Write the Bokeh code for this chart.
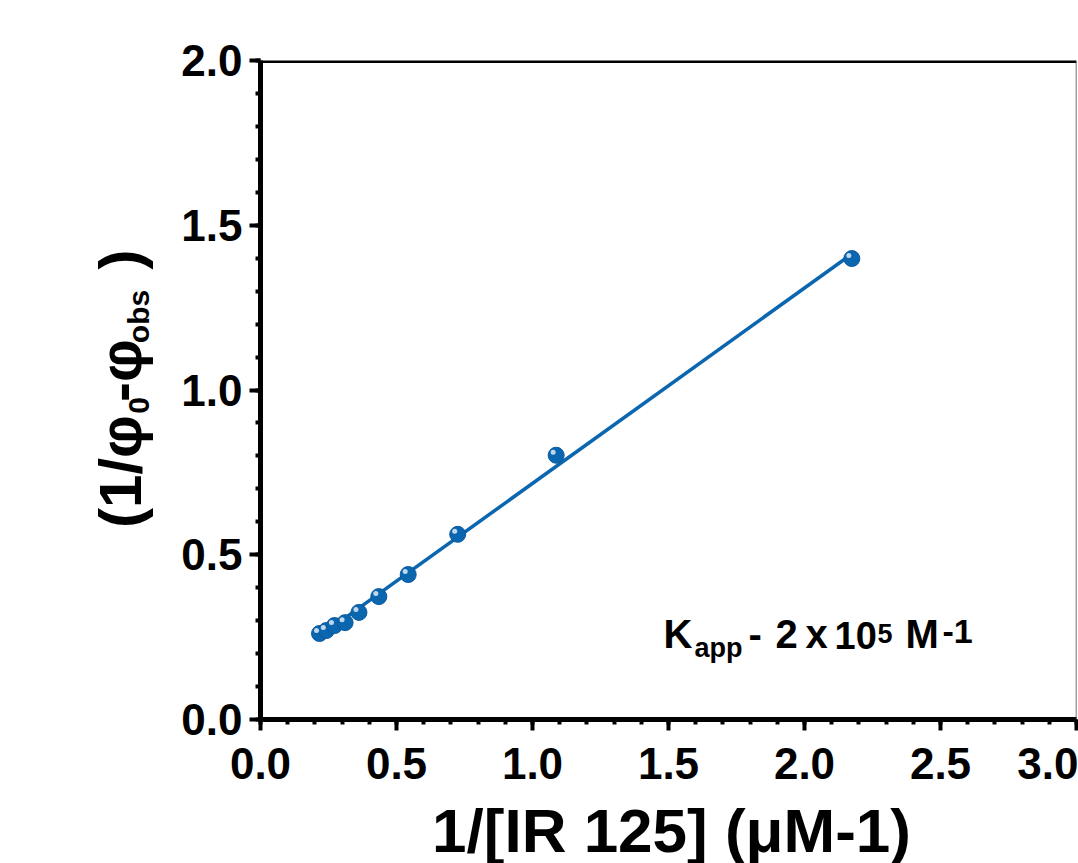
import numpy as np
from bokeh.plotting import figure
from bokeh.layouts import row, column
from bokeh.models import Range1d, SingleIntervalTicker, NumeralTickFormatter, Span, Label
from bokeh.embed import file_html
from bokeh.resources import INLINE

# ---------------- data ----------------
inv_conc = [0.217, 0.242, 0.272, 0.311, 0.362, 0.435, 0.543, 0.725, 1.087, 2.174]   # 1/[IR 125] (uM-1)
inv_dphi = [0.261, 0.270, 0.285, 0.294, 0.325, 0.373, 0.440, 0.562, 0.802, 1.399]   # 1/(phi0 - phi_obs)
x_label = "1/[IR 125] (\u03bcM-1)"
y_label_parts = ["(1/\u03c6", "0", "-\u03c6", "obs", ")"]
annot_parts = ["K", "app", "-", "2", "x", "10", "5", "M", "-1"]

# ---------------- style ----------------
W, H = 1078, 863
YL_W = 170            # width of the strip holding the y-axis title
XL_H = 63             # height of the strip holding the x-axis title
PW, PH = W - YL_W, H - XL_H
LEFT, RIGHT, TOP, BOTTOM = 260 - YL_W, 2, 60, 81
X0, X1, Y0, Y1 = 0.0, 3.0, 0.0, 2.0
BLUE = "#0b66b0"
FONT = "Liberation Sans"
BASE_SHIFT = 0.355    # label anchor -> glyph baseline distance, in font sizes

fx0, fx1 = YL_W + LEFT, W - RIGHT
fy0, fy1 = TOP, PH - BOTTOM


def px2x(px):
    return X0 + (px - fx0) * (X1 - X0) / (fx1 - fx0)


def px2y(py):
    return Y0 + (fy1 - py) * (Y1 - Y0) / (fy1 - fy0)


def clean(fig):
    fig.xgrid.visible = False
    fig.ygrid.visible = False
    fig.outline_line_color = None
    fig.background_fill_color = "white"
    fig.border_fill_color = "white"


def make_label(x, y, text, size, align="left", angle=0.0):
    return Label(x=x, y=y, text=text, angle=angle, text_align=align,
                 text_baseline="alphabetic", text_font=FONT, text_font_style="bold",
                 text_font_size=f"{size}px", text_color="black")


# ---------------- main plot ----------------
p = figure(width=PW, height=PH, x_range=Range1d(X0, X1), y_range=Range1d(Y0, Y1),
           output_backend="svg", toolbar_location=None,
           min_border_left=LEFT, min_border_right=RIGHT,
           min_border_top=TOP, min_border_bottom=BOTTOM)
clean(p)

for ax in (p.xaxis[0], p.yaxis[0]):
    ax.ticker = SingleIntervalTicker(interval=0.5, num_minor_ticks=5)
    ax.formatter = NumeralTickFormatter(format="0.0")
    ax.axis_line_width = 5
    ax.axis_line_color = "black"
    ax.major_tick_line_width = 4
    ax.minor_tick_line_width = 4
    ax.major_tick_line_color = "black"
    ax.minor_tick_line_color = "black"
    ax.major_tick_out = 11
    ax.major_tick_in = 0
    ax.minor_tick_out = 5
    ax.minor_tick_in = 0
    ax.major_label_text_font = FONT
    ax.major_label_text_font_style = "bold"
    ax.major_label_text_font_size = "44px"
    ax.major_label_text_color = "black"
p.xaxis.major_label_standoff = 17
p.yaxis.major_label_standoff = 7

# frame top and right borders
p.add_layout(Span(location=Y1, dimension="width", line_color="black", line_width=5))
p.add_layout(Span(location=X1, dimension="height", line_color="#444444", line_width=1.5))

# linear fit
xs = np.array(inv_conc)
ys = np.array(inv_dphi)
slope, intercept = np.polyfit(xs, ys, 1)
xf = np.array([xs.min(), xs.max()])
p.line(xf, slope * xf + intercept, line_color=BLUE, line_width=3.5)

# points (shaded spheres)
p.scatter(xs, ys, size=16, fill_color=BLUE, line_color="#0a58a0", line_width=1)
dx = px2x(fx0 - 3) - px2x(fx0)
dy = px2y(fy1 - 3) - px2y(fy1)
p.scatter(xs + dx, ys + dy, size=5, fill_color="white", fill_alpha=0.75, line_color=None)

# annotation pieces : (start x px, baseline y px, size)
annot_layout = [(663, 648, 40), (694, 657, 27), (748, 648, 40), (775, 648, 40),
                (805, 648, 40), (834, 648, 38), (877, 643, 27), (905, 648, 40), (942, 643, 34)]
for txt, (sx, by, sz) in zip(annot_parts, annot_layout):
    p.add_layout(make_label(px2x(sx), px2y(by - BASE_SHIFT * sz), txt, sz))

# ---------------- y-axis title strip ----------------
# (its frame is aligned with the main frame by the row layout, so it shares the y scale)
yl = figure(width=YL_W, height=PH, x_range=Range1d(0, YL_W), y_range=Range1d(Y0, Y1),
            output_backend="svg", toolbar_location=None,
            x_axis_location=None, y_axis_location=None,
            min_border_left=0, min_border_right=0, min_border_top=TOP, min_border_bottom=BOTTOM)
clean(yl)
# pieces are centred on their own mid-points: (centre y px from top, baseline x px, size)
ylab_layout = [(471, 141, 60), (405, 149, 30), (370, 141, 60), (316, 149, 30), (259, 141, 60)]
for txt, (cy, bx, sz) in zip(y_label_parts, ylab_layout):
    yl.add_layout(make_label(bx - BASE_SHIFT * sz, px2y(cy), txt, sz,
                             align="center", angle=np.pi / 2))

# ---------------- x-axis title strip ----------------
xl = figure(width=W, height=XL_H, x_range=Range1d(0, W), y_range=Range1d(0, XL_H),
            output_backend="svg", toolbar_location=None,
            x_axis_location=None, y_axis_location=None,
            min_border_left=0, min_border_right=0, min_border_top=0, min_border_bottom=0)
clean(xl)
XL_SIZE = 62
xl.add_layout(make_label((fx0 + fx1) / 2 + 3, H - (852 - BASE_SHIFT * XL_SIZE), x_label,
                         XL_SIZE, align="center"))

layout = column(row(yl, p), xl)
open("out.html", "w").write(file_html(layout, INLINE))
